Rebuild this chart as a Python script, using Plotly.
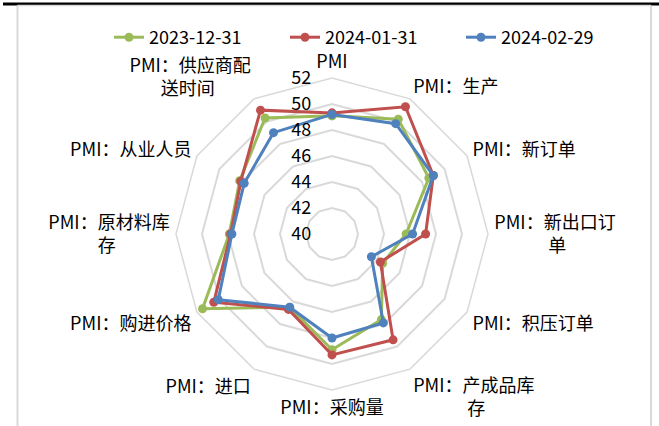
import plotly.graph_objects as go

categories = ["PMI", "PMI：生产", "PMI：新订单", "PMI：新出口订单", "PMI：积压订单",
              "PMI：产成品库存", "PMI：采购量", "PMI：进口", "PMI：购进价格",
              "PMI：原材料库存", "PMI：从业人员", "PMI：供应商配送时间"]
tick_labels = ["PMI", "PMI：生产", "PMI：新订单", "PMI：新出口订<br>\u3000\u3000\u3000单",
               "PMI：积压订单", "PMI：产成品库<br>\u3000\u3000\u3000存", "PMI：采购量",
               "PMI：进口", "PMI：购进价格", "PMI：原材料库<br>存\u3000\u3000\u3000",
               "PMI：从业人员", "PMI：供应商配<br>送时间\u3000\u3000"]

series_names = ["2023-12-31", "2024-01-31", "2024-02-29"]
v_2023_12 = [49.1, 50.2, 48.6, 45.7, 44.5, 47.6, 48.9, 46.5, 51.5, 47.9, 48.2, 50.3]
v_2024_01 = [49.3, 51.3, 49.0, 47.2, 44.3, 49.4, 49.3, 46.7, 50.5, 47.8, 48.1, 51.0]
v_2024_02 = [49.2, 49.8, 49.0, 46.2, 43.5, 47.9, 48.0, 46.5, 50.1, 47.7, 47.8, 49.0]
colors = ["#9BBB59", "#C0504D", "#4F81BD"]

radial_ticks = [40, 42, 44, 46, 48, 50, 52]

FONT = "'Noto Sans CJK SC', sans-serif"
FS = 18
W, H = 659, 426

fig = go.Figure()
for name, vals, col in zip(series_names, [v_2023_12, v_2024_01, v_2024_02], colors):
    fig.add_trace(go.Scatterpolar(
        r=vals + [vals[0]],
        theta=categories + [categories[0]],
        mode="lines+markers",
        name=name,
        line=dict(color=col, width=3),
        marker=dict(color=col, size=9),
    ))

cx, cy, R = 332, 234, 156
fig.update_layout(
    width=W, height=H,
    margin=dict(l=0, r=0, t=0, b=0),
    paper_bgcolor="white",
    plot_bgcolor="white",
    font=dict(family=FONT, size=FS, color="#000000"),
    showlegend=True,
    legend=dict(
        orientation="h",
        x=109 / W, xanchor="left",
        y=(H - 37.5) / H, yanchor="middle",
        entrywidth=131, entrywidthmode="pixels",
        font=dict(family=FONT, size=FS, color="#000000"),
        bgcolor="rgba(0,0,0,0)",
    ),
    polar=dict(
        domain=dict(x=[(cx - R) / W, (cx + R) / W],
                    y=[(H - cy - R) / H, (H - cy + R) / H]),
        bgcolor="white",
        gridshape="linear",
        radialaxis=dict(
            range=[40, 52],
            tickvals=radial_ticks,
            angle=90,
            tickangle=90,
            side="counterclockwise",
            showline=False,
            ticks="outside",
            ticklen=14,
            tickcolor="rgba(0,0,0,0)",
            gridcolor="#D9D9D9",
            gridwidth=1.5,
            tickfont=dict(family=FONT, size=FS, color="#000000"),
        ),
        angularaxis=dict(
            type="category",
            categoryarray=categories,
            tickvals=categories,
            ticktext=tick_labels,
            direction="clockwise",
            rotation=90,
            showline=True,
            showgrid=False,
            linecolor="#D9D9D9",
            linewidth=1.5,
            ticks="outside",
            ticklen=2,
            tickcolor="rgba(0,0,0,0)",
            tickfont=dict(family=FONT, size=FS, color="#000000"),
        ),
    ),
    shapes=[
        dict(type="line", xref="paper", yref="paper",
             x0=3 / W, x1=1, y0=(H - 4) / H, y1=(H - 4) / H,
             line=dict(color="black", width=3)),
        dict(type="line", xref="paper", yref="paper",
             x0=17.5 / W, x1=17.5 / W, y0=0, y1=(H - 5.5) / H,
             line=dict(color="#D9D9D9", width=2)),
        dict(type="line", xref="paper", yref="paper",
             x0=651 / W, x1=651 / W, y0=0, y1=(H - 5.5) / H,
             line=dict(color="#D9D9D9", width=2)),
        dict(type="line", xref="paper", yref="paper",
             x0=17.5 / W, x1=651 / W, y0=(H - 5.5) / H, y1=(H - 5.5) / H,
             line=dict(color="#D9D9D9", width=1.5)),
    ],
)

fig.write_html("out.html")
